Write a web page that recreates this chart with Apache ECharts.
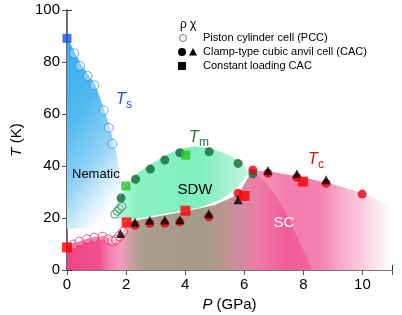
<!DOCTYPE html>
<html><head><meta charset="utf-8">
<script src="https://cdn.jsdelivr.net/npm/echarts@6/dist/echarts.min.js"></script>
<style>html,body{margin:0;padding:0;background:#fff}#c{width:402px;height:315px}</style>
</head><body><div id="c"></div>
<script>
// ---- data (P in GPa, T in K) ----
const xTickLabels = ['0','2','4','6','8','10'];
const yTickLabels = ['0','20','40','60','80','100'];
const tsPCC   = [[0.24,83.3],[0.44,78.5],[0.70,74.6],[0.93,71.0],[1.24,61.4],[1.41,54.7],[1.54,48.5]];
const tsConst = [[0,89.1]];
const tmPCC   = [[1.62,21.5],[1.70,22.6],[1.78,23.5],[1.86,24.4]];
const tmCAC   = [[1.83,27.7],[2.32,34.9],[2.82,38.8],[3.31,42.3],[3.82,45.1],[4.81,45.5],[5.79,41.0],[6.29,37.0]];
const tmConst = [[1.99,32.3],[4.02,44.2]];
const tcPCC   = [[0.21,9.8],[0.42,10.9],[0.68,11.8],[0.92,12.4],[1.20,12.8],[1.40,11.8],[1.53,11.1],[1.66,11.6],[1.77,13.0],[1.89,14.7]];
const tcCACrho= [[2.30,17.2],[2.80,18.0],[3.31,18.0],[3.82,18.5],[4.80,20.5],[5.79,29.5],[6.29,38.5],[6.80,37.2],[7.78,35.6],[8.77,33.3],[9.99,29.2]];
const tcCACchi= [[1.81,14.0],[2.30,18.4],[2.80,19.1],[3.31,19.2],[3.82,19.3],[4.80,21.6],[5.79,27.0],[6.80,38.3],[7.78,37.0],[8.77,34.7]];
const tcConst = [[0,8.7],[2.02,18.3],[4.01,22.8],[6.01,28.5],[7.99,34.0]];
// phase region boundaries
const nematicRegion = [[0,89.5],[0.25,84],[0.45,79.5],[0.7,75.5],[0.95,71.5],[1.25,62],[1.45,55],[1.6,48],[1.72,42],[1.82,35],[1.9,28],[1.93,16],[0,16]];
const scRegion = [[0,0],[0,9],[0.2,10.3],[0.45,11.2],[0.7,12],[0.95,12.7],[1.25,13.1],[1.45,12],[1.6,11.5],[1.75,12.5],[1.9,15],[2.0,18.5],[3,20.5],[4,22.5],[5,25],[5.8,29],[6.1,35],[6.3,38.3],[7,37.6],[8,35.6],[9,33],[10,29.5],[10.5,27],[11,23.5],[11,0]];
const scArc = [[6.3,38.3],[6.7,34],[7.1,28],[7.5,20],[7.9,10],[8.3,0],[11,0],[11,23.5],[10.5,27],[10,29.5],[9,33],[8,35.6],[7,37.6]];
const sdwRegion = [[1.75,27],[1.85,29.5],[2.3,36.5],[2.8,40.5],[3.3,43.8],[3.8,46.5],[4.3,47.5],[4.8,47],[5.3,45],[5.8,42.5],[6.0,40],[6.15,37.5],[5.95,34],[5.75,31.5],[5.2,27],[4.5,24],[3.5,22],[2.5,20],[2.0,19],[1.6,19.5],[1.5,21],[1.55,24]];

const FONT = 'Liberation Sans, Arial, Helvetica, sans-serif';
const chart = echarts.init(document.getElementById('c'), null, {renderer:'canvas'});

function region(pts, fillFn, z) {
  return {type:'custom', coordinateSystem:'cartesian2d', data:[[0,0]], silent:true, z:z, clip:true,
    renderItem:function(params, api){
      return {type:'polygon', shape:{points: pts.map(q=>api.coord(q))}, style:{fill: fillFn(api)}};
    }};
}
function lin(a,b,stops){ return new echarts.graphic.LinearGradient(a[0],a[1],b[0],b[1],stops,true); }

const blueFill = api => { const A=api.coord([0,89]); const L=140; return lin(A,[A[0]+0.785*L,A[1]+0.619*L],[
  {offset:0,color:'#34acee'},{offset:0.4,color:'#52baf0'},{offset:0.7,color:'#96d4f6'},{offset:0.88,color:'#d8effb'},{offset:1,color:'#ffffff'}]); };
const pinkFill = api => lin(api.coord([0,0]),api.coord([11,0]),[
  {offset:0,color:'#ee4686'},{offset:0.1,color:'#ef4f8e'},{offset:0.127,color:'#f37cab'},{offset:0.164,color:'#f59cc0'},
  {offset:0.2,color:'#c6a09c'},{offset:0.236,color:'#a89e8a'},{offset:0.418,color:'#a49a88'},{offset:0.48,color:'#b8968f'},
  {offset:0.545,color:'#d88aa5'},{offset:0.59,color:'#f07aa6'},{offset:0.68,color:'#f05c98'},{offset:0.77,color:'#f2659e'},
  {offset:0.86,color:'#f7a6c6'},{offset:0.936,color:'#fbd8e6'},{offset:1,color:'#ffffff'}]);
const arcFill = api => lin(api.coord([7,0]),api.coord([11,0]),[
  {offset:0,color:'rgba(255,255,255,0.22)'},{offset:1,color:'rgba(255,255,255,0.1)'}]);
const greenFill = api => lin(api.coord([1.5,30]),api.coord([6.2,30]),[
  {offset:0,color:'rgba(200,245,225,0.3)'},{offset:0.085,color:'#b0f3d6'},{offset:0.19,color:'#8af0c4'},
  {offset:0.64,color:'#80eec0'},{offset:0.83,color:'#a2f2d0'},{offset:1,color:'#c8f6e2'}]);

function sc(data, symbol, size, color, stroke, z){
  return {type:'scatter', data:data, symbol:symbol, symbolSize:size, z:z||5, silent:true,
    itemStyle:{color:color, borderColor:stroke||color, borderWidth: stroke?1:0}};
}

const txt = (x,y,s,opt) => Object.assign({type:'text', x:x, y:y, z:100, style:Object.assign({text:s, font:'11px '+FONT, fill:'#000', align:'left', verticalAlign:'middle'}, opt||{})});

chart.setOption({
  animation:false,
  grid:{left:67, right:10, top:10, bottom:45, containLabel:false, outerBoundsMode:'none'},
  xAxis:[{type:'value', min:0, max:11, interval:2,
      name:'{i|P} (GPa)', nameLocation:'middle', nameGap:26,
      nameTextStyle:{fontSize:15, fontFamily:FONT, color:'#000', rich:{i:{fontStyle:'italic', fontSize:15, fontFamily:FONT}}},
      axisLine:{lineStyle:{color:'#333', width:1.5}}, axisTick:{inside:true, length:5, lineStyle:{color:'#333'}},
      axisLabel:{fontSize:15, fontFamily:FONT, color:'#000', margin:7, formatter:(v)=>xTickLabels[v/2]}, splitLine:{show:false}},
    {type:'value', position:'top', min:0, max:11, interval:2, axisLine:{show:true, lineStyle:{color:'#777', width:1}},
      axisTick:{inside:true, length:5, lineStyle:{color:'#555'}}, axisLabel:{show:false}, splitLine:{show:false}}],
  yAxis:[{type:'value', min:0, max:100, interval:20,
      name:'{i|T} (K)', nameLocation:'middle', nameGap:33, nameRotate:90,
      nameTextStyle:{fontSize:15, fontFamily:FONT, color:'#000', rich:{i:{fontStyle:'italic', fontSize:15, fontFamily:FONT}}},
      axisLine:{lineStyle:{color:'#333', width:1.5}}, axisTick:{inside:true, length:5, lineStyle:{color:'#333'}},
      axisLabel:{fontSize:15, fontFamily:FONT, color:'#000', margin:7, formatter:(v)=>yTickLabels[v/20]}, splitLine:{show:false}},
    {type:'value', position:'right', min:0, max:100, interval:20, axisLine:{show:true, lineStyle:{color:'#777', width:1}},
      axisTick:{inside:true, length:5, lineStyle:{color:'#555'}}, axisLabel:{show:false}, splitLine:{show:false}}],
  series:[
    region(nematicRegion, blueFill, 1),
    region(scRegion, pinkFill, 2),
    region(scArc, arcFill, 2),
    region(sdwRegion, greenFill, 3),
    sc(tsPCC,'circle',9,'rgba(255,255,255,0.45)','#3c8ee0'),
    sc(tmPCC,'circle',8,'rgba(255,255,255,0.2)','#2a8a50'),
    sc(tcPCC,'circle',9,'rgba(255,255,255,0.35)','#e8305a'),
    sc(tmCAC,'circle',9,'#0f6a38',null,6),
    sc(tcCACrho,'circle',9,'#e60012',null,6),
    sc(tcCACchi,'triangle',[9,9],'#000',null,7),
    sc(tsConst,'rect',9,'#1a4fe0',null,8),
    sc(tmConst,'rect',9,'#22c422',null,8),
    sc(tcConst,'rect',10,'#ff0000',null,8)
  ],
  graphic:[
    txt(180,25,'ρ',{font:'12px '+FONT}), txt(190,25,'χ',{font:'12px '+FONT}),
    {type:'circle', z:100, shape:{cx:183, cy:38, r:3.5}, style:{fill:'#fff', stroke:'#777', lineWidth:1}},
    txt(203,38,'Piston cylinder cell (PCC)'),
    {type:'circle', z:100, shape:{cx:182, cy:52, r:4}, style:{fill:'#000'}},
    {type:'polygon', z:100, shape:{points:[[193,48],[197,55.5],[189,55.5]]}, style:{fill:'#000'}},
    txt(203,52,'Clamp-type cubic anvil cell (CAC)'),
    {type:'rect', z:100, shape:{x:178, y:62, width:8, height:8}, style:{fill:'#000'}},
    txt(203,66,'Constant loading CAC'),
    txt(116,100,'T',{font:'italic 16px '+FONT, fill:'#1f50d8'}), txt(126,105,'s',{font:'12px '+FONT, fill:'#1f50d8'}),
    txt(189,138,'T',{font:'italic 16px '+FONT, fill:'#1a7a40'}), txt(199,143,'m',{font:'12px '+FONT, fill:'#1a7a40'}),
    txt(308,160,'T',{font:'italic 16px '+FONT, fill:'#d01010'}), txt(318,165,'c',{font:'12px '+FONT, fill:'#d01010'}),
    txt(72,174,'Nematic',{font:'13px '+FONT}),
    txt(195,190,'SDW',{font:'15px '+FONT, align:'center'}),
    txt(284,223,'SC',{font:'15px '+FONT, align:'center', fill:'#fff'})
  ]
});
</script></body></html>
